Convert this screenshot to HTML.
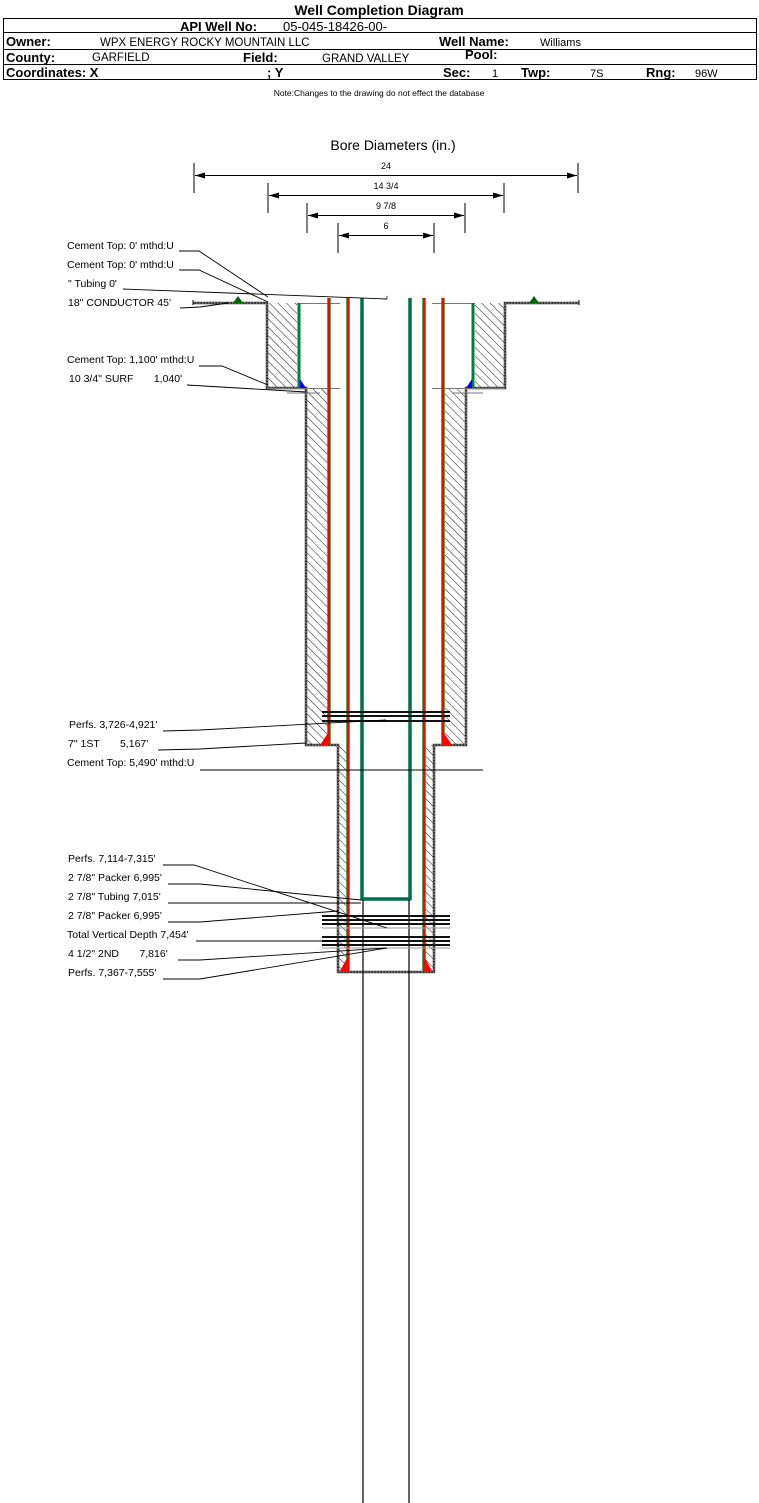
<!DOCTYPE html>
<html><head><meta charset="utf-8"><style>
html,body{margin:0;padding:0;background:#fff;}
svg{display:block;font-family:"Liberation Sans",Arial,sans-serif;}
</style></head><body>
<svg width="759" height="1503" viewBox="0 0 759 1503" xmlns="http://www.w3.org/2000/svg">
<defs>
<pattern id="h" width="6" height="6" patternUnits="userSpaceOnUse" patternTransform="rotate(-45)">
<rect width="6" height="6" fill="#fff"/><line x1="0" y1="0" x2="0" y2="6" stroke="#000" stroke-width="0.9"/>
</pattern>
<marker id="a" markerWidth="10" markerHeight="6" refX="10" refY="3" orient="auto-start-reverse" markerUnits="userSpaceOnUse"><path d="M0,0 L10,3 L0,6z" fill="#000"/></marker>
</defs>
<!-- header -->
<text x="379" y="15" font-size="14" font-weight="bold" text-anchor="middle">Well Completion Diagram</text>
<rect x="3.5" y="18.5" width="753" height="61" fill="none" stroke="#000"/>
<line x1="3" y1="32.5" x2="757" y2="32.5" stroke="#000"/>
<line x1="3" y1="49.5" x2="757" y2="49.5" stroke="#000"/>
<line x1="3" y1="64.5" x2="757" y2="64.5" stroke="#000"/>
<text x="180" y="31" font-size="13" font-weight="bold">API Well No:</text>
<text x="283" y="31" font-size="13">05-045-18426-00-</text>
<text x="6" y="46" font-size="13" font-weight="bold">Owner:</text>
<text x="100" y="46" font-size="11.5">WPX ENERGY ROCKY MOUNTAIN LLC</text>
<text x="439" y="46" font-size="13" font-weight="bold">Well Name:</text>
<text x="540" y="46" font-size="11">Williams</text>
<text x="6" y="62" font-size="13" font-weight="bold">County:</text>
<text x="92" y="61" font-size="11.5">GARFIELD</text>
<text x="243" y="62" font-size="13" font-weight="bold">Field:</text>
<text x="322" y="62" font-size="11.5">GRAND VALLEY</text>
<text x="465" y="59" font-size="13" font-weight="bold">Pool:</text>
<text x="6" y="77" font-size="13" font-weight="bold">Coordinates: X</text>
<text x="267" y="77" font-size="13" font-weight="bold">; Y</text>
<text x="443" y="77" font-size="13" font-weight="bold">Sec:</text>
<text x="492" y="77" font-size="11">1</text>
<text x="521" y="77" font-size="13" font-weight="bold">Twp:</text>
<text x="590" y="77" font-size="11">7S</text>
<text x="646" y="77" font-size="13" font-weight="bold">Rng:</text>
<text x="695" y="77" font-size="11">96W</text>
<text x="379" y="96" font-size="8.5" text-anchor="middle">Note:Changes to the drawing do not effect the database</text>
<!-- dims -->
<text x="393" y="150" font-size="14" text-anchor="middle">Bore Diameters (in.)</text>
<g stroke="#000" stroke-width="1">
<line x1="194" y1="163" x2="194" y2="193"/><line x1="578" y1="163" x2="578" y2="193"/>
<line x1="195" y1="175.5" x2="577" y2="175.5" marker-start="url(#a)" marker-end="url(#a)"/>
<line x1="268" y1="183" x2="268" y2="213"/><line x1="504" y1="183" x2="504" y2="213"/>
<line x1="269" y1="195.5" x2="503" y2="195.5" marker-start="url(#a)" marker-end="url(#a)"/>
<line x1="307" y1="203" x2="307" y2="233"/><line x1="465" y1="203" x2="465" y2="233"/>
<line x1="308" y1="215.5" x2="464" y2="215.5" marker-start="url(#a)" marker-end="url(#a)"/>
<line x1="338" y1="223" x2="338" y2="253"/><line x1="434" y1="223" x2="434" y2="253"/>
<line x1="339" y1="235.5" x2="433" y2="235.5" marker-start="url(#a)" marker-end="url(#a)"/>
</g>
<g font-size="9" text-anchor="middle">
<text x="386" y="169">24</text><text x="386" y="189">14 3/4</text><text x="386" y="209">9 7/8</text><text x="386" y="229">6</text>
</g>
<!-- cement hatch -->
<rect x="267" y="303" width="30" height="85" fill="url(#h)"/>
<rect x="475" y="303" width="30" height="85" fill="url(#h)"/>
<rect x="306" y="388" width="22" height="357" fill="url(#h)"/>
<rect x="445" y="388" width="21" height="357" fill="url(#h)"/>
<rect x="338" y="745" width="9" height="227" fill="url(#h)"/>
<rect x="425" y="745" width="9" height="227" fill="url(#h)"/>
<!-- hole outline -->
<path d="M193,303 H267 V388 H306 V745 H338 V972 H434 V745 H466 V388 H505 V303 H579" fill="none" stroke="#333" stroke-width="2.5"/>
<path d="M193,303 H267 V388 H306 V745 H338 V972 H434 V745 H466 V388 H505 V303 H579" fill="none" stroke="#aaa" stroke-width="1" stroke-dasharray="1.5,1.5"/>
<line x1="193" y1="300" x2="193" y2="305" stroke="#000"/><line x1="579" y1="300" x2="579" y2="305" stroke="#000"/>
<path d="M233,303 L238,296 L243,303z" fill="#060"/><path d="M529,303 L534,296 L539,303z" fill="#060"/>
<g stroke="#777" stroke-width="1">
<line x1="297" y1="303.5" x2="340" y2="303.5"/><line x1="432" y1="303.5" x2="475" y2="303.5"/>
<line x1="267" y1="388.5" x2="340" y2="388.5"/><line x1="432" y1="388.5" x2="505" y2="388.5"/>
<line x1="287" y1="393" x2="320" y2="393"/><line x1="452" y1="393" x2="483" y2="393"/>
</g>
<!-- casings -->
<g stroke-width="3.5">
<line x1="299" y1="303" x2="299" y2="388" stroke="#008040" stroke-width="3"/><line x1="473" y1="303" x2="473" y2="388" stroke="#008040" stroke-width="3"/>
<line x1="329" y1="298" x2="329" y2="745" stroke="#2a8a2a"/><line x1="443" y1="298" x2="443" y2="745" stroke="#2a8a2a"/>
<line x1="348" y1="298" x2="348" y2="972" stroke="#2a8a2a"/><line x1="424" y1="298" x2="424" y2="972" stroke="#2a8a2a"/>
<line x1="362" y1="298" x2="362" y2="900" stroke="#00704a"/><line x1="410" y1="298" x2="410" y2="900" stroke="#00704a"/>
<line x1="361" y1="899" x2="411" y2="899" stroke="#00704a"/>
</g>
<g stroke="#f00" stroke-width="2">
<line x1="329" y1="298" x2="329" y2="745"/><line x1="443" y1="298" x2="443" y2="745"/>
<line x1="348" y1="298" x2="348" y2="972"/><line x1="424" y1="298" x2="424" y2="972"/>
</g>
<path d="M300,388 L300,379 L306,388z" fill="#00f"/><path d="M472,388 L472,379 L466,388z" fill="#00f"/>
<path d="M328,745 L328,733 L320,745z" fill="#f00"/><path d="M444,745 L444,733 L452,745z" fill="#f00"/>
<path d="M347,971 L347,958 L340,971z" fill="#f00"/><path d="M425,971 L425,958 L432,971z" fill="#f00"/>
<line x1="387" y1="296" x2="387" y2="299" stroke="#080"/>
<!-- tail lines -->
<g stroke="#000" stroke-width="1.2">
<line x1="363" y1="900" x2="363" y2="1503"/><line x1="409" y1="900" x2="409" y2="1503"/>
</g>
<!-- perfs -->
<g stroke="#111" stroke-width="2">
<line x1="322" y1="712" x2="450" y2="712"/><line x1="322" y1="716" x2="450" y2="716"/><line x1="322" y1="721" x2="450" y2="721"/>
<line x1="322" y1="916" x2="450" y2="916"/><line x1="322" y1="920" x2="450" y2="920"/><line x1="322" y1="924" x2="450" y2="924"/>
<line x1="322" y1="937" x2="450" y2="937"/><line x1="322" y1="941" x2="450" y2="941"/><line x1="322" y1="945" x2="450" y2="945"/>
</g>
<g stroke="#999" stroke-width="1"><line x1="322" y1="928" x2="450" y2="928"/><line x1="322" y1="948" x2="450" y2="948"/></g>
<!-- labels -->
<g font-size="10.5" fill="#000">
<text x="67" y="249">Cement Top: 0' mthd:U</text>
<text x="67" y="268">Cement Top: 0' mthd:U</text>
<text x="68" y="287">" Tubing 0'</text>
<text x="68" y="306">18" CONDUCTOR  45'</text>
<text x="67" y="363">Cement Top: 1,100' mthd:U</text>
<text x="69" y="382" xml:space="preserve">10 3/4" SURF       1,040'</text>
<text x="69" y="728">Perfs. 3,726-4,921'</text>
<text x="68" y="747" xml:space="preserve">7" 1ST       5,167'</text>
<text x="67" y="766">Cement Top: 5,490' mthd:U</text>
<text x="68" y="862">Perfs. 7,114-7,315'</text>
<text x="68" y="881">2 7/8" Packer 6,995'</text>
<text x="68" y="900">2 7/8" Tubing 7,015'</text>
<text x="68" y="919">2 7/8" Packer 6,995'</text>
<text x="67" y="938">Total Vertical Depth 7,454'</text>
<text x="68" y="957" xml:space="preserve">4 1/2" 2ND       7,816'</text>
<text x="68" y="976">Perfs. 7,367-7,555'</text>
</g>
<g fill="none" stroke="#000" stroke-width="0.9">
<polyline points="179,251 199,251 268,297"/>
<polyline points="179,270 199,270 268,302"/>
<polyline points="123,289 387,299"/>
<polyline points="180,308 200,307 228,303"/>
<polyline points="199,366 222,366 268,385"/>
<polyline points="187,385 306,392"/>
<polyline points="163,731 200,730 386,720"/>
<polyline points="158,750 200,749 306,743"/>
<polyline points="200,770 483,770"/>
<polyline points="163,865 194,865 387,928"/>
<polyline points="168,884 200,884 361,900"/>
<polyline points="168,903 361,903"/>
<polyline points="168,922 200,922 338,911"/>
<polyline points="196,941 338,941"/>
<polyline points="178,960 200,960 387,948"/>
<polyline points="163,979 200,979 387,948"/>
</g>
</svg>
</body></html>
